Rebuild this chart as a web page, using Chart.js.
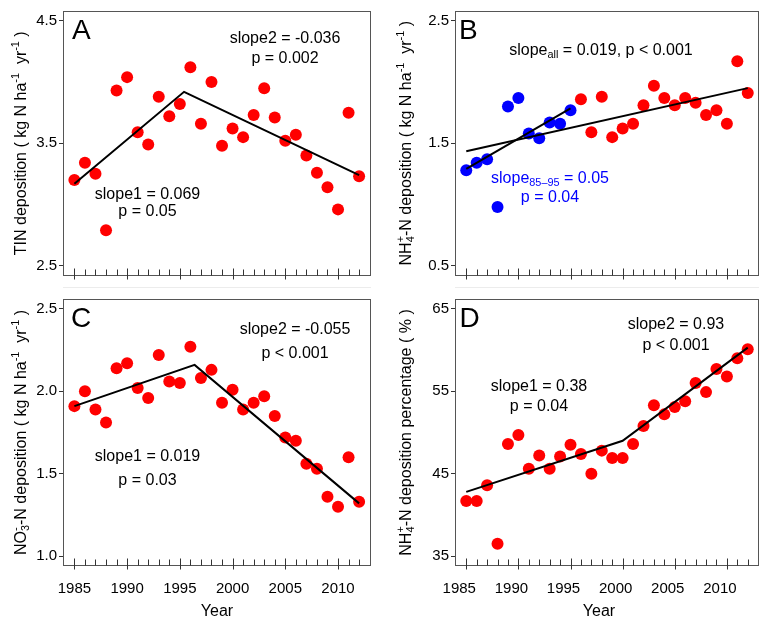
<!DOCTYPE html>
<html><head><meta charset="utf-8">
<script src="https://cdn.jsdelivr.net/npm/chart.js@4.4.0/dist/chart.umd.min.js"></script>
<style>
html,body{margin:0;padding:0;background:#fff;}
body{width:765px;height:618px;position:relative;overflow:hidden;}
.panel{position:absolute;}
canvas{display:block;}
</style></head><body>
<div class="panel" style="left:0;top:0;width:382px;height:288px"><canvas id="cA" width="382" height="288"></canvas></div>
<div class="panel" style="left:382px;top:0;width:383px;height:288px"><canvas id="cB" width="383" height="288"></canvas></div>
<div class="panel" style="left:0;top:288px;width:382px;height:330px"><canvas id="cC" width="382" height="330"></canvas></div>
<div class="panel" style="left:382px;top:288px;width:383px;height:330px"><canvas id="cD" width="383" height="330"></canvas></div>
<script>
// ---------------- data ----------------
const years = [1985,1986,1987,1988,1989,1990,1991,1992,1993,1994,1995,1996,1997,1998,1999,2000,2001,2002,2003,2004,2005,2006,2007,2008,2009,2010,2011,2012];
const tinDeposition = [3.20,3.34,3.25,2.79,3.93,4.04,3.59,3.49,3.88,3.72,3.82,4.12,3.66,4.00,3.48,3.62,3.55,3.73,3.95,3.71,3.52,3.57,3.40,3.26,3.14,2.96,3.75,3.23];
const nh4Deposition = [1.28,1.34,1.37,0.98,1.80,1.87,1.58,1.54,1.67,1.66,1.77,1.86,1.59,1.88,1.55,1.62,1.66,1.81,1.97,1.87,1.81,1.87,1.83,1.73,1.77,1.66,2.17,1.91];
const no3Deposition = [1.91,2.00,1.89,1.81,2.14,2.17,2.02,1.96,2.22,2.06,2.05,2.27,2.08,2.13,1.93,2.01,1.89,1.93,1.97,1.85,1.72,1.70,1.56,1.53,1.36,1.30,1.60,1.33];
const nh4Percentage = [41.7,41.7,43.6,36.5,48.6,49.7,45.6,47.2,45.6,47.1,48.5,47.4,45.0,47.8,46.9,46.9,48.6,50.8,53.3,52.2,53.1,53.8,56.0,54.9,57.7,56.8,59.0,60.1];
const earlyPeriodEnd = 1995;

const xTickLabels = [1985,1990,1995,2000,2005,2010];
const yTicksA = [2.5,3.5,4.5];
const yTicksB = [0.5,1.5,2.5];
const yTicksC = [1.0,1.5,2.0,2.5];
const yTicksD = [35,45,55,65];

const fitA_x = [1985,1995.4,2012],  fitA_y = [3.17,3.92,3.24];
const fitBall_x = [1985,2012],      fitBall_y = [1.435,1.95];
const fitB8595_x = [1985,1995],     fitB8595_y = [1.29,1.785];
const fitC_x = [1985,1996.4,2012],  fitC_y = [1.91,2.16,1.32];
const fitD_x = [1985,2000,2012],    fitD_y = [42.8,49.0,60.3];

// ---------------- helpers ----------------
const FONT = '"Liberation Sans", Arial, Helvetica, sans-serif';
const fnt = s => s + 'px ' + FONT;
const pts = (xs, ys) => xs.map((x, i) => ({x: x, y: ys[i]}));

function richWidth(ctx, segs, size){
  const small = size * 0.68; let w = 0;
  for (const s of segs){
    if (s.k === 'ss'){ ctx.font = fnt(small); w += Math.max(ctx.measureText(s.sup).width, ctx.measureText(s.sub).width); }
    else { ctx.font = fnt(s.k === 'n' ? size : small); w += ctx.measureText(s.t).width; }
  }
  return w;
}
function drawRich(ctx, segs, x, yMid, size, color){
  const small = size * 0.68;
  const base = yMid + 0.358 * size;
  let cx = x - richWidth(ctx, segs, size) / 2;
  ctx.fillStyle = color; ctx.textAlign = 'left'; ctx.textBaseline = 'alphabetic';
  for (const s of segs){
    if (s.k === 'ss'){
      ctx.font = fnt(small);
      ctx.fillText(s.sup, cx, base - 0.42 * size);
      ctx.fillText(s.sub, cx, base + 0.22 * size);
      cx += Math.max(ctx.measureText(s.sup).width, ctx.measureText(s.sub).width);
    } else if (s.k === 'sup'){
      ctx.font = fnt(small); ctx.fillText(s.t, cx, base - 0.42 * size); cx += ctx.measureText(s.t).width;
    } else if (s.k === 'sub'){
      ctx.font = fnt(small); ctx.fillText(s.t, cx, base + 0.22 * size); cx += ctx.measureText(s.t).width;
    } else {
      ctx.font = fnt(size); ctx.fillText(s.t, cx, base); cx += ctx.measureText(s.t).width;
    }
  }
}
const N = t => ({k:'n', t});
const SUP = t => ({k:'sup', t});
const SUB = t => ({k:'sub', t});
const SS = (sup, sub) => ({k:'ss', sup, sub});

const decor = {
  id: 'decor',
  afterDraw(chart, args, o){
    const ctx = chart.ctx, a = chart.chartArea, xs = chart.scales.x;
    ctx.save();
    const L = Math.round(a.left), R = Math.round(a.right), T = Math.round(a.top), B = Math.round(a.bottom);
    ctx.strokeStyle = '#555'; ctx.lineWidth = 1;
    ctx.strokeRect(L + 0.5, T + 0.5, R - L - 1, B - T - 1);
    // x ticks: minor inward, major crossing
    ctx.strokeStyle = '#333';
    const yb = B - 0.5;
    for (const yr of years){
      const px = Math.round(xs.getPixelForValue(yr)) + 0.5;
      const major = yr % 5 === 0;
      ctx.beginPath(); ctx.moveTo(px, yb - (major ? 7 : 6)); ctx.lineTo(px, yb + (major ? 4 : 0)); ctx.stroke();
    }
    if (o.faintLine){
      ctx.strokeStyle = '#ececec';
      ctx.beginPath(); ctx.moveTo(L, o.faintLine + 0.5); ctx.lineTo(R, o.faintLine + 0.5); ctx.stroke();
    }
    // panel letter
    ctx.fillStyle = '#000'; ctx.font = fnt(28); ctx.textAlign = 'left'; ctx.textBaseline = 'alphabetic';
    ctx.fillText(o.letter, a.left + o.letterDx, a.top + 28);
    // annotations
    for (const an of o.notes) drawRich(ctx, an.segs, an.x, an.y, 16, an.color || '#000');
    // y title
    ctx.save();
    ctx.translate(o.yTitleX, (a.top + a.bottom) / 2);
    ctx.rotate(-Math.PI / 2);
    drawRich(ctx, o.yTitle, 0, 0, 16, '#000');
    ctx.restore();
    if (o.xTitle) drawRich(ctx, [N(o.xTitle)], o.xTitleX, o.xTitleY, 16, '#000');
    ctx.restore();
  }
};

function makeChart(id, cfg){
  const showX = cfg.showXLabels;
  return new Chart(document.getElementById(id), {
    type: 'scatter',
    data: { datasets: cfg.datasets },
    options: {
      responsive: false, animation: false, events: [],
      layout: { padding: { left: 0, top: 2, right: cfg.padRight, bottom: 0 } },
      plugins: { legend: {display: false}, tooltip: {enabled: false}, decor: cfg.decor },
      scales: {
        x: {
          type: 'linear', min: 1983.92, max: 2013.08,
          afterBuildTicks: ax => { ax.ticks = xTickLabels.map(v => ({value: v})); },
          afterFit: sc => { sc.height = cfg.xHeight; },
          grid: { display: false, drawTicks: false },
          border: { display: false },
          ticks: { display: showX, autoSkip: false, maxRotation: 0, padding: 14, color: '#000',
                   font: { family: FONT, size: 15 }, labelOffset: cfg.xLabelOffset || 0,
                   callback: v => String(v) }
        },
        y: {
          type: 'linear', min: cfg.yMin, max: cfg.yMax,
          afterBuildTicks: ax => { ax.ticks = cfg.yTicks.map(v => ({value: v})); },
          afterFit: sc => { sc.width = cfg.yWidth; },
          grid: { drawOnChartArea: false, drawTicks: true, tickLength: 4, color: '#333', lineWidth: 1 },
          border: { display: false },
          ticks: { padding: 2, color: '#000', font: { family: FONT, size: 15 },
                   callback: v => cfg.yDecimals ? Number(v).toFixed(cfg.yDecimals) : String(v) }
        }
      }
    },
    plugins: [decor]
  });
}

const lineDs = (xs, ys) => ({ data: pts(xs, ys), showLine: true, borderColor: '#000', borderWidth: 2, pointRadius: 0, tension: 0, fill: false });
const dotDs = (data, color) => ({ data, showLine: false, pointRadius: 6, pointHoverRadius: 6, pointBackgroundColor: color, pointBorderWidth: 0, backgroundColor: color, borderColor: color });

const kgUnit = [N(' ( kg N ha'), SUP('-1'), N('  yr'), SUP('-1'), N(' )')];

// Panel A
makeChart('cA', {
  datasets: [ lineDs(fitA_x, fitA_y), dotDs(pts(years, tinDeposition), '#ff0000') ],
  padRight: 11.5, xHeight: 12.5, yWidth: 63, yMin: 2.42, yMax: 4.58, yTicks: yTicksA, yDecimals: 1, showXLabels: false,
  decor: { letter: 'A', letterDx: 9, faintLine: 287,
    notes: [
      { x: 285, y: 37, segs: [N('slope2 = -0.036')] },
      { x: 285, y: 57, segs: [N('p = 0.002')] },
      { x: 147.5, y: 193, segs: [N('slope1 = 0.069')] },
      { x: 147.5, y: 210, segs: [N('p = 0.05')] }
    ],
    yTitleX: 20, yTitle: [N('TIN deposition')].concat(kgUnit) }
});

// Panel B
const nh4Early = pts(years, nh4Deposition).filter(p => p.x <= earlyPeriodEnd);
const nh4Late = pts(years, nh4Deposition).filter(p => p.x > earlyPeriodEnd);
makeChart('cB', {
  datasets: [ lineDs(fitBall_x, fitBall_y), lineDs(fitB8595_x, fitB8595_y), dotDs(nh4Early, '#0000ff'), dotDs(nh4Late, '#ff0000') ],
  padRight: 3.5, xHeight: 12.5, yWidth: 73, yMin: 0.42, yMax: 2.58, yTicks: yTicksB, yDecimals: 1, showXLabels: false,
  decor: { letter: 'B', letterDx: 4, faintLine: 287,
    notes: [
      { x: 219, y: 49, segs: [N('slope'), SUB('all'), N(' = 0.019, p < 0.001')] },
      { x: 168, y: 177, color: '#0000ff', segs: [N('slope'), SUB('85\u201395'), N(' = 0.05')] },
      { x: 168, y: 196, color: '#0000ff', segs: [N('p = 0.04')] }
    ],
    yTitleX: 23, yTitle: [N('NH'), SS('+', '4'), N('-N deposition')].concat(kgUnit) }
});

// Panel C
makeChart('cC', {
  datasets: [ lineDs(fitC_x, fitC_y), dotDs(pts(years, no3Deposition), '#ff0000') ],
  padRight: 11.5, xHeight: 52, yWidth: 63, yMin: 0.94, yMax: 2.56, yTicks: yTicksC, yDecimals: 1, showXLabels: true,
  decor: { letter: 'C', letterDx: 8,
    notes: [
      { x: 295, y: 40, segs: [N('slope2 = -0.055')] },
      { x: 295, y: 64, segs: [N('p < 0.001')] },
      { x: 147.5, y: 167, segs: [N('slope1 = 0.019')] },
      { x: 147.5, y: 191.5, segs: [N('p = 0.03')] }
    ],
    yTitleX: 20, yTitle: [N('NO'), SS('-', '3'), N('-N deposition')].concat(kgUnit),
    xTitle: 'Year', xTitleX: 217, xTitleY: 322 }
});

// Panel D
makeChart('cD', {
  datasets: [ lineDs(fitD_x, fitD_y), dotDs(pts(years, nh4Percentage), '#ff0000') ],
  padRight: 3.5, xHeight: 52, yWidth: 73, yMin: 33.8, yMax: 66.2, yTicks: yTicksD, yDecimals: 0, showXLabels: true,
  xLabelOffset: -7,
  decor: { letter: 'D', letterDx: 4.5,
    notes: [
      { x: 294, y: 35, segs: [N('slope2 = 0.93')] },
      { x: 294, y: 56, segs: [N('p < 0.001')] },
      { x: 157, y: 97, segs: [N('slope1 = 0.38')] },
      { x: 157, y: 117, segs: [N('p = 0.04')] }
    ],
    yTitleX: 23, yTitle: [N('NH'), SS('+', '4'), N('-N deposition percentage ( % )')],
    xTitle: 'Year', xTitleX: 217, xTitleY: 322 }
});
</script>
</body></html>
